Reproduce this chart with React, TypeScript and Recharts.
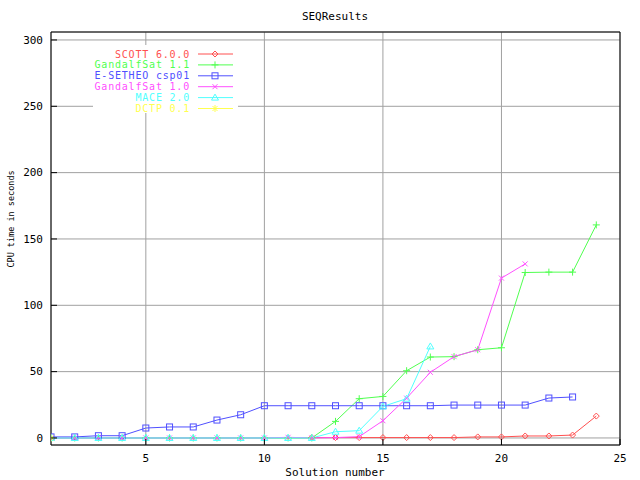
import React from 'react';
import { LineChart, Line, XAxis, YAxis, CartesianGrid } from 'recharts';

// solution numbers on the x axis
const solutions = [1, 2, 3, 4, 5, 6, 7, 8, 9, 10, 11, 12, 13, 14, 15, 16, 17, 18, 19, 20, 21, 22, 23, 24];

// CPU time per prover (null = no solution)
const scott = [null, null, null, null, null, null, null, null, null, null, null, 0.3, 0.3, 0.3, 0.3, 0.3, 0.3, 0.3, 0.8, 0.8, 1.5, 1.5, 2.2, 16.5];
const gandalf11 = [0, 0, 0, 0, 0, 0, 0, 0, 0, 0, 0, 0, 12.5, 29.6, 31.3, 50.7, 61, 61.3, 66.5, 68, 124.7, 125, 125, 160.6];
const esetheo = [0.8, 0.8, 1.7, 1.7, 7.5, 8.3, 8.3, 13.5, 17.5, 24.3, 24.3, 24.3, 24.3, 24.3, 24.3, 24.3, 24.3, 24.8, 24.8, 24.8, 24.8, 30.1, 30.9, null];
const gandalf10 = [0, 0, 0, 0, 0, 0, 0, 0, 0, 0, 0.5, 0, 0.3, 1, 13, 30, 49.5, 61.3, 66.5, 120.5, 131.2, null, null, null];
const mace = [0, 0, 0, 0, 0, 0, 0, 0, 0, 0, 0, 0, 4.7, 5.5, 23.8, 29.6, 69, null, null, null, null, null, null, null];
const dctp = [0, null, null, null, null, null, null, null, null, null, null, null, null, null, null, null, null, null, null, null, null, null, null, null];

const xTicks = [5, 10, 15, 20, 25];
const yTicks = [0, 50, 100, 150, 200, 250, 300];

type Shape = 'diamond' | 'plus' | 'square' | 'cross' | 'triangle' | 'star';

const series: { key: string; name: string; color: string; shape: Shape; values: (number | null)[] }[] = [
  { key: 'scott', name: 'SCOTT 6.0.0', color: '#ff5050', shape: 'diamond', values: scott },
  { key: 'gandalf11', name: 'GandalfSat 1.1', color: '#50ff50', shape: 'plus', values: gandalf11 },
  { key: 'esetheo', name: 'E-SETHEO csp01', color: '#5050ff', shape: 'square', values: esetheo },
  { key: 'gandalf10', name: 'GandalfSat 1.0', color: '#ff50ff', shape: 'cross', values: gandalf10 },
  { key: 'mace', name: 'MACE 2.0', color: '#50ffff', shape: 'triangle', values: mace },
  { key: 'dctp', name: 'DCTP 0.1', color: '#ffff50', shape: 'star', values: dctp },
];

const data = solutions.map((x, i) => {
  const row: Record<string, number | null> = { x };
  series.forEach((s) => {
    row[s.key] = s.values[i];
  });
  return row;
});

const FONT = '"DejaVu Sans Mono", monospace';

const Marker = ({ cx, cy, shape, color }: { cx: number; cy: number; shape: Shape; color: string }) => {
  const p = { stroke: color, strokeWidth: 1, fill: 'none' };
  switch (shape) {
    case 'diamond':
      return <path d={`M${cx},${cy - 3}L${cx + 3},${cy}L${cx},${cy + 3}L${cx - 3},${cy}Z`} {...p} />;
    case 'plus':
      return <path d={`M${cx - 3.5},${cy}H${cx + 3.5}M${cx},${cy - 3.5}V${cy + 3.5}`} {...p} />;
    case 'square':
      return <rect x={cx - 3} y={cy - 3} width={6} height={6} {...p} />;
    case 'cross':
      return <path d={`M${cx - 2.5},${cy - 2.5}L${cx + 2.5},${cy + 2.5}M${cx - 2.5},${cy + 2.5}L${cx + 2.5},${cy - 2.5}`} {...p} />;
    case 'triangle':
      return <path d={`M${cx},${cy - 3.5}L${cx + 3.5},${cy + 2.5}L${cx - 3.5},${cy + 2.5}Z`} {...p} />;
    default:
      return (
        <path
          d={`M${cx - 3.5},${cy}H${cx + 3.5}M${cx},${cy - 3.5}V${cy + 3.5}M${cx - 2.5},${cy - 2.5}L${cx + 2.5},${cy + 2.5}M${cx - 2.5},${cy + 2.5}L${cx + 2.5},${cy - 2.5}`}
          {...p}
        />
      );
  }
};

const BottomTick = (props: any) => {
  const { x, y, payload } = props;
  return (
    <g>
      <line x1={x} x2={x} y1={y - 13} y2={y - 19} stroke="#000" />
      <text x={x} y={y} dy="0.35em" textAnchor="middle" fontFamily={FONT} fontSize={11} fill="#000">
        {payload.value}
      </text>
    </g>
  );
};

const LeftTick = (props: any) => {
  const { x, y, payload } = props;
  return (
    <g>
      <line x1={x + 8} x2={x + 14} y1={y} y2={y} stroke="#000" />
      <text x={x} y={y} dy="0.35em" textAnchor="end" fontFamily={FONT} fontSize={11} fill="#000">
        {payload.value}
      </text>
    </g>
  );
};

const Key = () => (
  <g>
    <rect x={93} y={45} width={145} height={68} fill="#fff" />
    {series.map((s, i) => {
      const y = 54 + i * 10.9;
      return (
        <g key={s.key}>
          <text
            x={190}
            y={y}
            dy="0.35em"
            textAnchor="end"
            fontFamily={FONT}
            fontSize={10}
            letterSpacing={0.8}
            fill={s.color}
          >
            {s.name}
          </text>
          <line x1={198} x2={233} y1={y} y2={y} stroke={s.color} />
          <Marker cx={215} cy={y} shape={s.shape} color={s.color} />
        </g>
      );
    })}
  </g>
);

export default function App() {
  return (
    <div style={{ position: 'absolute', left: 0, top: 0, background: '#fff' }}>
      <LineChart width={640} height={480} data={data} margin={{ top: 32, right: 20, bottom: 0, left: 0 }}>
        <CartesianGrid stroke="#a0a0a0" strokeWidth={1} />
        <XAxis
          dataKey="x"
          type="number"
          domain={[1, 25]}
          ticks={xTicks}
          height={35}
          tickSize={0}
          tickMargin={13}
          tickLine={false}
          tick={<BottomTick />}
          axisLine={{ stroke: '#000' }}
          allowDataOverflow
        />
        <XAxis
          xAxisId="top"
          orientation="top"
          mirror
          type="number"
          domain={[1, 25]}
          ticks={xTicks}
          height={1}
          tickSize={6}
          tick={false}
          stroke="#000"
          allowDataOverflow
        />
        <YAxis
          type="number"
          domain={[-5.3, 306]}
          ticks={yTicks}
          width={51}
          tickSize={0}
          tickMargin={8}
          tickLine={false}
          tick={<LeftTick />}
          axisLine={{ stroke: '#000' }}
          allowDataOverflow
        />
        <YAxis
          yAxisId="right"
          orientation="right"
          mirror
          type="number"
          domain={[-5.3, 306]}
          ticks={yTicks}
          width={1}
          tickSize={6}
          tick={false}
          stroke="#000"
          allowDataOverflow
        />
        <Key />
        {series.map((s) => (
          <Line
            key={s.key}
            dataKey={s.key}
            name={s.name}
            stroke={s.color}
            strokeWidth={1}
            isAnimationActive={false}
            connectNulls={false}
            activeDot={false}
            dot={(p: any) =>
              p.cy == null || p.value == null ? (
                <g key={`${s.key}-${p.index}`} />
              ) : (
                <g key={`${s.key}-${p.index}`}>
                  <Marker cx={p.cx} cy={p.cy} shape={s.shape} color={s.color} />
                </g>
              )
            }
          />
        ))}
        <text x={335} y={16} dy="0.35em" textAnchor="middle" fontFamily={FONT} fontSize={11} fill="#000">
          SEQResults
        </text>
        <text x={335} y={472} dy="0.35em" textAnchor="middle" fontFamily={FONT} fontSize={11} fill="#000">
          Solution number
        </text>
        <text
          x={11}
          y={219}
          dy="0.35em"
          textAnchor="middle"
          fontFamily={FONT}
          fontSize={8.5}
          fill="#000"
          transform="rotate(-90 11 219)"
        >
          CPU time in seconds
        </text>
      </LineChart>
    </div>
  );
}
